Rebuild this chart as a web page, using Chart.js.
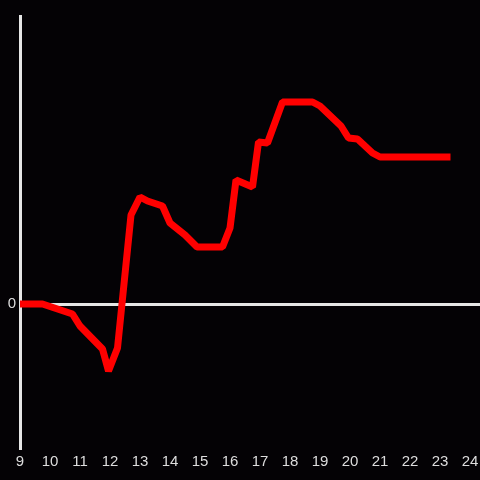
<!DOCTYPE html>
<html>
<head>
<meta charset="utf-8">
<script src="https://cdn.jsdelivr.net/npm/chart.js@4/dist/chart.umd.min.js"></script>
<style>
  html, body { margin: 0; padding: 0; background: #040205; }
  #wrap { width: 480px; height: 480px; }
</style>
</head>
<body>
<div id="wrap"><canvas id="lineChart"></canvas></div>
<script>
  var hours = [9.0, 9.75, 10.75, 11.0, 11.75, 11.95, 12.25, 12.7, 13.0, 13.25, 13.75, 14.0, 14.5, 14.9,
               15.75, 16.0, 16.2, 16.75, 16.95, 17.25, 17.75, 18.75, 19.0, 19.7, 19.95, 20.25, 20.75, 21.0, 23.35];
  var values = [0, 0, -10, -22, -45, -67, -44, 89, 107, 103, 98, 81, 69, 57,
                57, 76, 124, 117, 162, 161, 202, 202, 198, 178, 166, 165, 151, 147, 147];
  var xTicks = [9, 10, 11, 12, 13, 14, 15, 16, 17, 18, 19, 20, 21, 22, 23, 24];
  var yTicks = [0];

  Chart.defaults.font.family = "'Liberation Sans', Arial, sans-serif";
  Chart.defaults.font.size = 15;
  Chart.defaults.color = "#dddddd";

  new Chart(document.getElementById("lineChart"), {
    type: "line",
    data: {
      datasets: [{
        data: hours.map(function (h, i) { return { x: h, y: values[i] }; }),
        borderColor: "#ff0000",
        borderWidth: 7,
        borderJoinStyle: "bevel",
        pointRadius: 0,
        tension: 0,
        fill: false
      }]
    },
    options: {
      responsive: true,
      maintainAspectRatio: false,
      animation: false,
      layout: { padding: { top: 16, right: 0, left: 0, bottom: 0 } },
      plugins: { legend: { display: false }, tooltip: { enabled: false } },
      scales: {
        x: {
          type: "linear",
          min: 9, max: 24.333,
          afterBuildTicks: function (axis) { axis.ticks = xTicks.map(function (v) { return { value: v }; }); },
          afterFit: function (axis) { axis.height = 32; axis.paddingRight = 0; },
          grid: { display: false, drawTicks: false },
          border: { display: false },
          ticks: { padding: 5, maxRotation: 0, autoSkip: false }
        },
        y: {
          min: -144, max: 288,
          afterBuildTicks: function (axis) { axis.ticks = yTicks.map(function (v) { return { value: v }; }); },
          afterFit: function (axis) { axis.width = 20; },
          grid: { color: "#e6e6e6", lineWidth: 3, drawTicks: false },
          border: { display: true, color: "#e6e6e6", width: 3 },
          ticks: { padding: 4 }
        }
      }
    }
  });
</script>
</body>
</html>
